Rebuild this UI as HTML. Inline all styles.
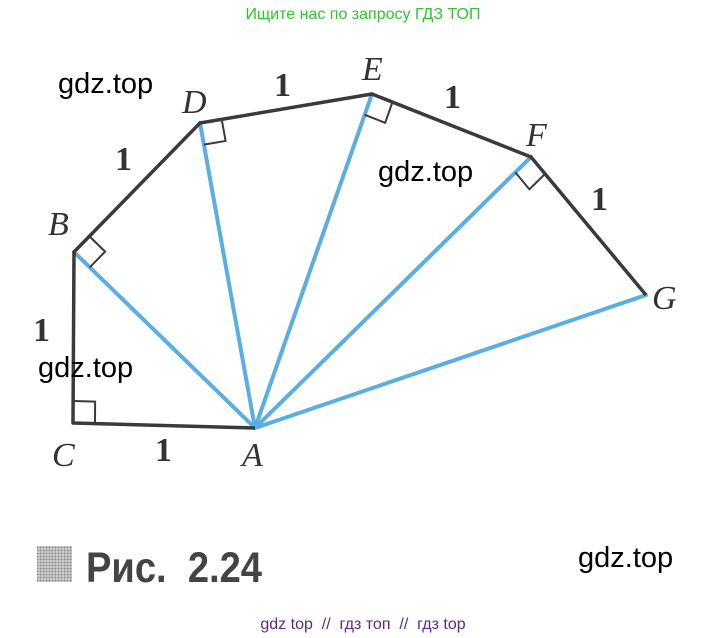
<!DOCTYPE html>
<html><head><meta charset="utf-8"><style>
html,body{margin:0;padding:0;background:#fff;width:727px;height:638px;overflow:hidden}
svg{display:block}
</style></head><body>
<svg id="s" width="727" height="638" viewBox="0 0 727 638" xmlns="http://www.w3.org/2000/svg">
<defs>
<pattern id="dots" width="3" height="3" patternUnits="userSpaceOnUse">
<rect width="3" height="3" fill="#d0d0d0"/><circle cx="1.5" cy="1.5" r="1" fill="#888"/>
</pattern>
</defs>
<text x="363" y="19" text-anchor="middle" font-family="Liberation Sans, sans-serif" font-size="16" fill="#2ec52e">Ищите нас по запросу ГДЗ ТОП</text>
<g stroke="#5aaee0" stroke-width="4" fill="none" stroke-linecap="round">
<line x1="255" y1="428" x2="74" y2="252"/>
<line x1="255" y1="428" x2="200" y2="123"/>
<line x1="255" y1="428" x2="372" y2="94"/>
<line x1="255" y1="428" x2="531" y2="157"/>
<line x1="255" y1="428" x2="646" y2="295"/>
</g>
<polyline points="255,428 73,423 74,252 200,123 372,94 531,157 646,295" stroke="#3a3a3a" stroke-width="3.5" fill="none" stroke-linejoin="round"/>
<g id="sq" stroke="#3a3a3a" stroke-width="2" fill="none"></g>
<g font-family="Liberation Serif, serif" font-style="italic" font-size="34" fill="#333">
<text x="48" y="235">B</text>
<text x="182" y="113">D</text>
<text x="362" y="80">E</text>
<text x="526" y="146">F</text>
<text x="652" y="309">G</text>
<text x="52" y="466">C</text>
<text x="242" y="466">A</text>
</g>
<g font-family="Liberation Serif, serif" font-size="34" font-weight="bold" fill="#333">
<text x="115" y="170">1</text>
<text x="274" y="96">1</text>
<text x="444" y="108">1</text>
<text x="591" y="210">1</text>
<text x="33" y="341">1</text>
<text x="155" y="461">1</text>
</g>
<g font-family="Liberation Sans, sans-serif" font-size="29" fill="#000">
<text x="58" y="93">gdz.top</text>
<text x="378" y="181">gdz.top</text>
<text x="38" y="377">gdz.top</text>
<text x="578" y="567">gdz.top</text>
</g>
<rect x="37" y="546" width="35" height="36" fill="url(#dots)"/>
<text x="86" y="582" font-family="Liberation Sans, sans-serif" font-weight="bold" font-size="43" fill="#444" textLength="176" lengthAdjust="spacingAndGlyphs" xml:space="preserve">Рис.  2.24</text>
<text x="363" y="629" text-anchor="middle" font-family="Liberation Sans, sans-serif" font-size="16" fill="#5a2a8a" xml:space="preserve">gdz top  //  гдз топ  //  гдз top</text>
</svg>
<script>
(function(){
var A=[255,428],P={B:[74,252],C:[73,423],D:[200,123],E:[372,94],F:[531,157],G:[646,295]};
function u(a,b){var dx=b[0]-a[0],dy=b[1]-a[1],l=Math.hypot(dx,dy);return[dx/l,dy/l];}
var pairs=[["C",P.B,A],["B",P.D,A],["D",P.E,A],["E",P.F,A],["F",P.G,A]];
var g=document.getElementById("sq"),s=22,h="";
pairs.forEach(function(p){var O=P[p[0]],a=u(O,p[1]),b=u(O,p[2]);
var p1=[O[0]+s*a[0],O[1]+s*a[1]],p2=[p1[0]+s*b[0],p1[1]+s*b[1]],p3=[O[0]+s*b[0],O[1]+s*b[1]];
h+='<polyline points="'+p1.join(",")+" "+p2.join(",")+" "+p3.join(",")+'"/>';});
g.innerHTML=h;
})();
</script>
</body></html>
